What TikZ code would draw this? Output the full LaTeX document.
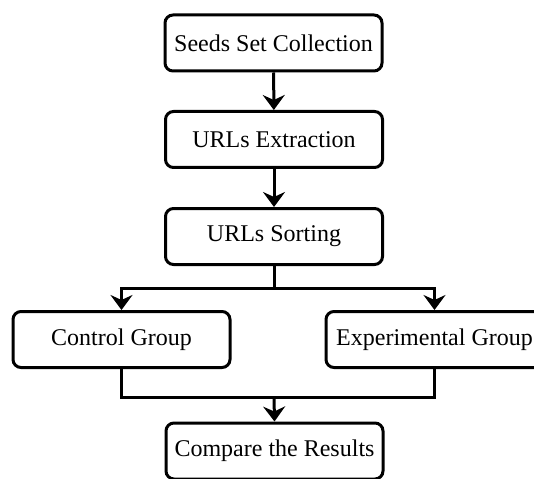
\documentclass[tikz,border=0pt]{standalone}
\usepackage{fontspec}
\setmainfont{Liberation Serif}
\usetikzlibrary{arrows.meta}
\begin{document}
\begin{tikzpicture}[x=1pt,y=-1pt,
  box/.style={draw, line width=3pt, rounded corners=8pt, fill=white,
    minimum width=217pt, minimum height=56pt, inner sep=0pt,
    font=\fontsize{24}{28}\selectfont},
  link/.style={line width=3pt, -{Stealth[length=15pt,width=22pt,inset=5pt]}},
  plain/.style={line width=3pt}]
\useasboundingbox (0,0) rectangle (534,478);

\node[box] (seeds)   at (273.5,43)  {Seeds Set Collection};
\node[box] (extract) at (274,139.5) {URLs Extraction};
\node[box] (sort)    at (274,236.5) {URLs Sorting};
\node[box] (ctrl)    at (121.5,339.5) {Control Group};
\node[box] (exper)   at (434.5,339.5) {Experimental Group};
\node[box] (cmp)     at (274.5,451) {Compare the Results};

\coordinate (split) at (274,288);
\coordinate (merge) at (274,397);

\draw[link] (seeds) -- (extract);
\draw[link] (extract) -- (sort);
\draw[plain] (sort.south) -- (split);
\draw[link] (split) -| (ctrl.north);
\draw[link] (split) -| (exper.north);
\draw[plain] (ctrl.south) |- (merge);
\draw[plain] (exper.south) |- (merge);
\draw[link] (merge) -- (cmp.north);
\end{tikzpicture}
\end{document}
